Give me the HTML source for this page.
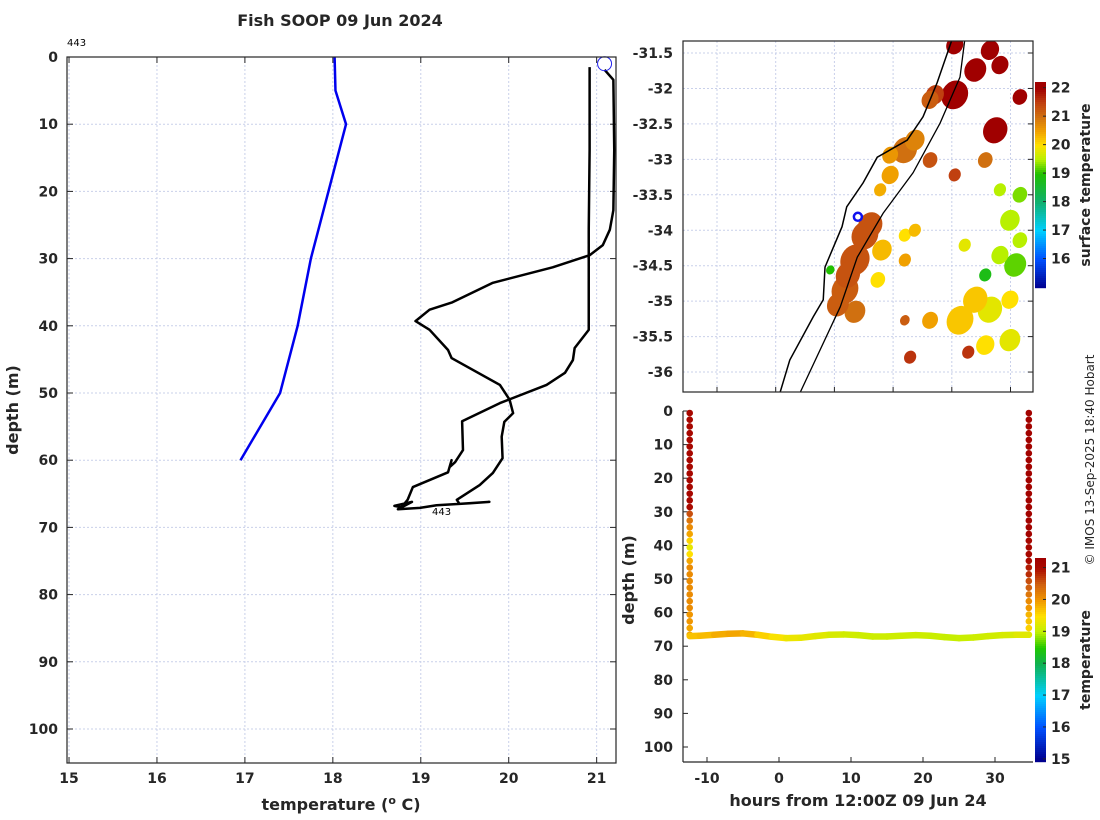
<!DOCTYPE html>
<html><head><meta charset="utf-8">
<style>
html,body{margin:0;padding:0;background:#fff;}
svg{display:block;font-family:"DejaVu Sans","Liberation Sans",sans-serif;}
.tk{font-size:14px;font-weight:bold;fill:#262626;}
.lb{font-size:16px;font-weight:bold;fill:#262626;}
</style></head>
<body>
<svg id="fig" width="1100" height="820" viewBox="0 0 1100 820" xmlns="http://www.w3.org/2000/svg">
<defs>
<clipPath id="cpL"><rect x="67" y="57" width="549" height="706"/></clipPath>
<clipPath id="cpM"><rect x="683" y="41" width="350" height="351"/></clipPath>
<clipPath id="cpB"><rect x="683" y="405" width="350" height="357"/></clipPath>
</defs>
<text x="340" y="26" text-anchor="middle" class="lb">Fish SOOP 09 Jun 2024</text>
<g id="gL"></g>
<g id="gM"></g>
<g id="gB"></g>
<text transform="translate(1094,460) rotate(-90)" text-anchor="middle" font-size="12" fill="#262626">© IMOS 13-Sep-2025 18:40 Hobart</text>
</svg>
<script>
// ---- Left profile data ----
const blueTemp = [18.02,18.03,18.15,17.95,17.75,17.6,17.4,16.95];
const blueDepth = [0,5,10,20,30,40,50,60];
const blackTemp = [20.92,20.92,20.91,20.91,20.75,20.73,20.64,20.43,19.90,19.47,19.48,19.39,19.33,19.35,19.31,18.91,18.85,18.78,18.70,18.90,18.74,18.99,19.18,19.56,19.78,19.44,19.41,19.67,19.82,19.93,19.92,19.95,20.05,20.01,19.90,19.35,19.31,19.10,18.94,19.10,19.36,19.82,20.50,20.92,21.07,21.15,21.19,21.20,21.19,21.09];
const blackDepth = [1.5,13.8,25.7,40.6,43.3,45.1,47.0,48.8,51.5,54.2,58.5,60.3,61.0,60.0,61.8,64.0,65.9,67.0,66.8,66.2,67.3,67.1,66.7,66.4,66.2,66.5,65.9,63.7,61.9,59.7,56.5,54.3,53.0,51.0,48.8,44.8,43.6,40.6,39.3,37.6,36.5,33.6,31.3,29.5,28.0,25.7,22.8,13.8,3.4,1.9];
const profXTicks = [15,16,17,18,19,20,21];
const profYTicks = [0,10,20,30,40,50,60,70,80,90,100];
// ---- Map data ----
const mapLonTicks = [149,150,151,152,153,154];
const mapLatTicks = [-31.5,-32,-32.5,-33,-33.5,-34,-34.5,-35,-35.5,-36];
const coastLon = [153.00,152.75,152.51,152.24,151.73,151.49,151.21,151.13,150.84,150.81,150.64,150.24,150.07];
const coastLat = [-31.32,-31.92,-32.40,-32.73,-32.97,-33.33,-33.67,-33.95,-34.52,-34.98,-35.22,-35.83,-36.30];
const shelfLon = [153.22,153.14,152.80,152.34,151.83,151.39,151.10,150.41];
const shelfLat = [-31.32,-31.84,-32.49,-33.19,-33.76,-34.38,-35.08,-36.30];
const sstLon = [153.40,153.65,153.05,152.71,153.74,154.16,152.20,151.95,152.63,153.57,153.05,151.52,151.35,151.18,151.81,151.74,151.35,152.20,153.99,154.08,153.57,153.65,153.14,153.99,152.63,152.20,152.29,153.28,153.82,153.22,150.93,151.61,151.23,151.06,153.82,153.05,152.63,152.37,151.95,151.78,154.16,154.16,153.82,153.40,153.99,153.57,152.37,152.20];
const sstLat = [-31.74,-31.46,-32.09,-32.09,-32.59,-32.12,-32.87,-33.22,-33.01,-33.01,-33.22,-34.07,-34.42,-34.84,-34.28,-34.70,-35.15,-34.07,-33.86,-34.49,-34.63,-35.12,-35.27,-35.55,-35.27,-35.27,-35.79,-35.72,-33.43,-34.21,-34.56,-33.93,-34.63,-35.05,-31.67,-31.39,-32.16,-32.73,-32.94,-33.43,-33.50,-34.14,-34.35,-34.98,-34.98,-35.62,-34.00,-34.42];
const sstRad = [0.18,0.15,0.22,0.15,0.2,0.12,0.2,0.14,0.12,0.12,0.1,0.22,0.24,0.22,0.16,0.12,0.17,0.1,0.16,0.18,0.1,0.2,0.22,0.17,0.13,0.08,0.1,0.1,0.1,0.1,0.07,0.2,0.2,0.18,0.14,0.14,0.14,0.16,0.13,0.1,0.12,0.12,0.14,0.2,0.14,0.15,0.1,0.1];
const sstTemp = [22,22,22,21.5,22,22,21,20.5,21.3,21,21.5,21.3,21.3,21.2,20.3,20,21,20,19.5,19.2,18.8,19.8,20.2,19.8,20.5,21.2,21.6,21.6,19.5,19.8,19,21.3,21.3,21.2,22,22,21.2,20.8,20.6,20.4,19.3,19.5,19.5,20.2,20,20,20.3,20.5];
const vesselLon = [151.40];
const vesselLat = [-33.81];
const sstCbTicks = [16,17,18,19,20,21,22];
// ---- Depth-time data ----
const downDepth = [0,2,4,6,8,10,12,14,16,18,20,22,24,26,28,30,32,34,36,38,40,42,44,46,48,50,52,54,56,58,60,62,64,66];
const downTemp = [21.1,21.1,21.1,21.1,21.1,21.1,21.1,21.1,21.1,21.1,21.1,21.1,21.1,21.1,21.0,20.6,20.3,20.1,19.9,19.6,19.3,19.5,19.9,20.1,20.1,20.1,20.1,20.1,20.1,20.1,20.0,20.0,19.9,19.9];
const upDepth = [0,2,4,6,8,10,12,14,16,18,20,22,24,26,28,30,32,34,36,38,40,42,44,46,48,50,52,54,56,58,60,62,64,66];
const upTemp = [21.2,21.2,21.2,21.2,21.2,21.2,21.2,21.2,21.2,21.2,21.2,21.2,21.2,21.2,21.2,21.2,21.2,21.2,21.2,21.1,21.1,21.1,21.0,20.9,20.8,20.6,20.5,20.3,20.1,20.0,19.8,19.7,19.6,19.5];
const bottomHours = [-13,-11,-9,-7,-5,-3,-1,1,3,5,7,9,11,13,15,17,19,21,23,25,27,29,31,33,35];
const bottomDepth = [67.0,66.9,66.6,66.3,66.2,66.6,67.2,67.6,67.5,67.0,66.6,66.5,66.7,67.1,67.1,66.9,66.7,66.9,67.3,67.6,67.4,67.0,66.7,66.6,66.6];
const bottomTemp = [19.7,19.7,19.8,19.9,19.9,19.7,19.5,19.4,19.3,19.3,19.2,19.15,19.1,19.1,19.1,19.1,19.1,19.1,19.05,19.05,19.1,19.1,19.15,19.2,19.3];
const btXTicks = [-10,0,10,20,30];
const btYTicks = [0,10,20,30,40,50,60,70,80,90,100];
const btCbTicks = [15,16,17,18,19,20,21];

const NS='http://www.w3.org/2000/svg';
function mk(parent,tag,attrs){const e=document.createElementNS(NS,tag);for(const k in attrs)e.setAttribute(k,attrs[k]);parent.appendChild(e);return e;}
function txt(parent,x,y,s,cls,anchor){const t=mk(parent,'text',{x:x,y:y,'class':cls,'text-anchor':anchor||'middle'});t.textContent=s;return t;}

function interp(st,v){if(v<=st[0][0])return 'rgb('+st[0][1]+')';for(let i=1;i<st.length;i++){if(v<=st[i][0]){const a=st[i-1],b=st[i];const f=(v-a[0])/(b[0]-a[0]);const c=a[1].map((x,j)=>Math.round(x+(b[1][j]-x)*f));return 'rgb('+c+')';}}return 'rgb('+st[st.length-1][1]+')';}
const stops=[[15,[0,0,143]],[16,[0,80,255]],[17,[0,208,255]],[18,[16,176,112]],[19,[32,192,0]],[19.5,[184,240,0]],[20,[255,224,0]],[20.5,[240,160,0]],[21,[208,112,16]],[21.5,[192,64,16]],[22,[160,0,0]]];
const stops2=[[15,[0,0,143]],[16,[0,80,255]],[17,[0,208,255]],[18,[16,176,80]],[18.5,[32,200,0]],[19,[192,240,0]],[19.5,[255,224,0]],[20,[240,150,0]],[20.5,[208,96,16]],[21,[170,10,0]],[21.3,[160,0,0]]];
function cmap(v){return interp(stops,v);}
function cmap2(v){return interp(stops2,v);}

// ===== Left panel =====
const gL=document.getElementById('gL');
const L={x0:67,x1:616,y0:57,y1:763,tmin:14.977,tmax:21.22,dmin:0,dmax:105.06};
const lx=t=>L.x0+(t-L.tmin)/(L.tmax-L.tmin)*(L.x1-L.x0);
const ly=d=>L.y0+(d-L.dmin)/(L.dmax-L.dmin)*(L.y1-L.y0);
profXTicks.forEach(t=>{
  const g=mk(gL,'line',{x1:lx(t),x2:lx(t),y1:L.y0,y2:L.y1,stroke:'#c9d0ea','stroke-dasharray':'2,2','stroke-width':1});
  
  
  mk(gL,'line',{x1:lx(t),x2:lx(t),y1:L.y1,y2:L.y1-6,stroke:'#262626'});
  mk(gL,'line',{x1:lx(t),x2:lx(t),y1:L.y0,y2:L.y0+6,stroke:'#262626'});
  const tl=txt(gL,lx(t),783,String(t),'tk');
  
  
});
profYTicks.forEach(d=>{
  const g=mk(gL,'line',{x1:L.x0,x2:L.x1,y1:ly(d),y2:ly(d),stroke:'#c9d0ea','stroke-dasharray':'2,2','stroke-width':1});
  
  
  mk(gL,'line',{x1:L.x0,x2:L.x0+6,y1:ly(d),y2:ly(d),stroke:'#262626'});
  mk(gL,'line',{x1:L.x1,x2:L.x1-6,y1:ly(d),y2:ly(d),stroke:'#262626'});
  const tl=txt(gL,58,ly(d)+5,String(d),'tk','end');
  
  
});
const cl=mk(gL,'g',{'clip-path':'url(#cpL)'});
const bl=mk(cl,'polyline',{points:blueTemp.map((t,i)=>lx(t)+','+ly(blueDepth[i])).join(' '),fill:'none',stroke:'#0000ee','stroke-width':2.5});


const kl=mk(cl,'polyline',{points:blackTemp.map((t,i)=>lx(t)+','+ly(blackDepth[i])).join(' '),fill:'none',stroke:'#000','stroke-width':2.5,'stroke-linejoin':'round'});


const sc=mk(gL,'circle',{cx:lx(blackTemp[blackTemp.length-1]),cy:ly(1),r:7,fill:'none',stroke:'#2222ee','stroke-width':1});


const ax=mk(gL,'rect',{x:L.x0,y:L.y0,width:L.x1-L.x0,height:L.y1-L.y0,fill:'none',stroke:'#262626','stroke-width':1.2});


const t443=txt(gL,67,46,'443','', 'start');t443.setAttribute('font-size','10');


const t443b=txt(gL,432,515,'443','','start');t443b.setAttribute('font-size','10');


const yl=mk(gL,'text',{transform:'translate(18,410) rotate(-90)','text-anchor':'middle','class':'lb'});yl.textContent='depth (m)';


const xl=mk(gL,'text',{x:341,y:810,'text-anchor':'middle','class':'lb'});
xl.innerHTML='temperature (<tspan dy="-6" font-size="11">o</tspan><tspan dy="6"> C)</tspan>';



// ===== Map panel =====
const gM=document.getElementById('gM');
const M={x0:683,x1:1033,y0:41,y1:392};
const mx=lon=>717+(lon-149)*58.7;
const my=lat=>53+(-31.5-lat)*70.9;
mapLonTicks.forEach(v=>{
  mk(gM,'line',{x1:mx(v),x2:mx(v),y1:M.y0,y2:M.y1,stroke:'#c9d0ea','stroke-dasharray':'2,2'});
  mk(gM,'line',{x1:mx(v),x2:mx(v),y1:M.y1,y2:M.y1-5,stroke:'#262626'});
  const tl=txt(gM,mx(v),416,String(v),'tk');
  
  
});
mapLatTicks.forEach(v=>{
  mk(gM,'line',{x1:M.x0,x2:M.x1,y1:my(v),y2:my(v),stroke:'#c9d0ea','stroke-dasharray':'2,2'});
  mk(gM,'line',{x1:M.x1,x2:M.x1-5,y1:my(v),y2:my(v),stroke:'#262626'});
  const tl=txt(gM,673,my(v)+5,String(v),'tk','end');
  
  
});
const cm=mk(gM,'g',{'clip-path':'url(#cpM)'});
sstLon.forEach((lon,i)=>{
  const r=sstRad[i]*58.7;
  const e=mk(cm,'ellipse',{cx:mx(lon),cy:my(sstLat[i]),rx:r,ry:r*1.15,fill:cmap(sstTemp[i]),transform:'rotate(30 '+mx(lon)+' '+my(sstLat[i])+')'});
  
  
});
const co=mk(cm,'polyline',{points:coastLon.map((v,i)=>mx(v)+','+my(coastLat[i])).join(' '),fill:'none',stroke:'#000','stroke-width':1.5});


const sh=mk(cm,'polyline',{points:shelfLon.map((v,i)=>mx(v)+','+my(shelfLat[i])).join(' '),fill:'none',stroke:'#000','stroke-width':1.3});


const vm=mk(gM,'circle',{cx:mx(vesselLon[0]),cy:my(vesselLat[0]),r:4,fill:'none',stroke:'#1010ee','stroke-width':2.5});


const mb=mk(gM,'rect',{x:M.x0,y:M.y0,width:M.x1-M.x0,height:M.y1-M.y0,fill:'none',stroke:'#262626','stroke-width':1.2});


const CB1={x:1035,w:11,y0:82,y1:287,vmax:22.2,vmin:15.0};
const cby1=v=>CB1.y0+(CB1.vmax-v)/(CB1.vmax-CB1.vmin)*(CB1.y1-CB1.y0);
for(let y=CB1.y0;y<CB1.y1;y+=2){const v=CB1.vmax-(y-CB1.y0)/(CB1.y1-CB1.y0)*(CB1.vmax-CB1.vmin);mk(gM,'rect',{x:CB1.x,y:y,width:CB1.w,height:2.2,fill:cmap(v)});}
sstCbTicks.forEach(v=>{mk(gM,'line',{x1:CB1.x+CB1.w,x2:CB1.x+CB1.w-3,y1:cby1(v),y2:cby1(v),stroke:'#262626'});const t=txt(gM,1051,cby1(v)+5,String(v),'tk','start');});
const cbt1=mk(gM,'text',{transform:'translate(1090,185) rotate(-90)','text-anchor':'middle','class':'tk'});cbt1.textContent='surface temperature';



// ===== Depth-time panel =====
const gB=document.getElementById('gB');
mk(gB,'rect',{x:683,y:398,width:350,height:365,fill:'#fff'});
const B={x0:683,x1:1033,y0:411,y1:762};
const bx=h=>779+h*7.2;
const by=d=>411+d*3.36;
btXTicks.forEach(v=>{
  mk(gB,'line',{x1:bx(v),x2:bx(v),y1:B.y1,y2:B.y1-5,stroke:'#262626'});
  const tl=txt(gB,bx(v),783,String(v),'tk');
  
  
});
btYTicks.forEach(v=>{
  mk(gB,'line',{x1:B.x0,x2:B.x0+5,y1:by(v),y2:by(v),stroke:'#262626'});
  const tl=txt(gB,673,by(v)+5,String(v),'tk','end');
  
  
});
const cb=mk(gB,'g',{'clip-path':'url(#cpB)'});
function dot(h,d,t,name){const c=mk(cb,'circle',{cx:bx(h),cy:by(d)+2,r:3.3,fill:cmap2(t)});}
downDepth.forEach((d,i)=>dot(bottomHours[0]+0.6,d,downTemp[i],'downcast-point'));
upDepth.forEach((d,i)=>dot(bottomHours[bottomHours.length-1]-0.3,d,upTemp[i],'upcast-point'));
for(let i=0;i<bottomHours.length-1;i++){
  const l=mk(cb,'line',{x1:bx(bottomHours[i]+(i==0?0.6:0)),y1:by(bottomDepth[i]),x2:bx(bottomHours[i+1]-(i==bottomHours.length-2?0.3:0)),y2:by(bottomDepth[i+1]),stroke:cmap2((bottomTemp[i]+bottomTemp[i+1])/2),'stroke-width':6.5,'stroke-linecap':'round'});
  
  
}
const bb=mk(gB,'line',{x1:B.x0,x2:B.x0,y1:B.y0,y2:B.y1,stroke:'#262626','stroke-width':1.2});


const bx2=mk(gB,'line',{x1:B.x0,x2:B.x1,y1:B.y1,y2:B.y1,stroke:'#262626','stroke-width':1.2});


const CB2={x:1035,w:11,y0:558,y1:762,vmax:21.3,vmin:14.9};
const cby2=v=>CB2.y0+(CB2.vmax-v)/(CB2.vmax-CB2.vmin)*(CB2.y1-CB2.y0);
for(let y=CB2.y0;y<CB2.y1;y+=2){const v=CB2.vmax-(y-CB2.y0)/(CB2.y1-CB2.y0)*(CB2.vmax-CB2.vmin);mk(gB,'rect',{x:CB2.x,y:y,width:CB2.w,height:2.2,fill:cmap2(v)});}
btCbTicks.forEach(v=>{mk(gB,'line',{x1:CB2.x+CB2.w,x2:CB2.x+CB2.w-3,y1:cby2(v),y2:cby2(v),stroke:'#262626'});const t=txt(gB,1051,cby2(v)+5,String(v),'tk','start');});
const cbt2=mk(gB,'text',{transform:'translate(1090,660) rotate(-90)','text-anchor':'middle','class':'tk'});cbt2.textContent='temperature';


const byl=mk(gB,'text',{transform:'translate(634,580) rotate(-90)','text-anchor':'middle','class':'lb'});byl.textContent='depth (m)';


const bxl=mk(gB,'text',{x:858,y:806,'text-anchor':'middle','class':'lb'});bxl.textContent='hours from 12:00Z 09 Jun 24';


</script>
</body></html>
